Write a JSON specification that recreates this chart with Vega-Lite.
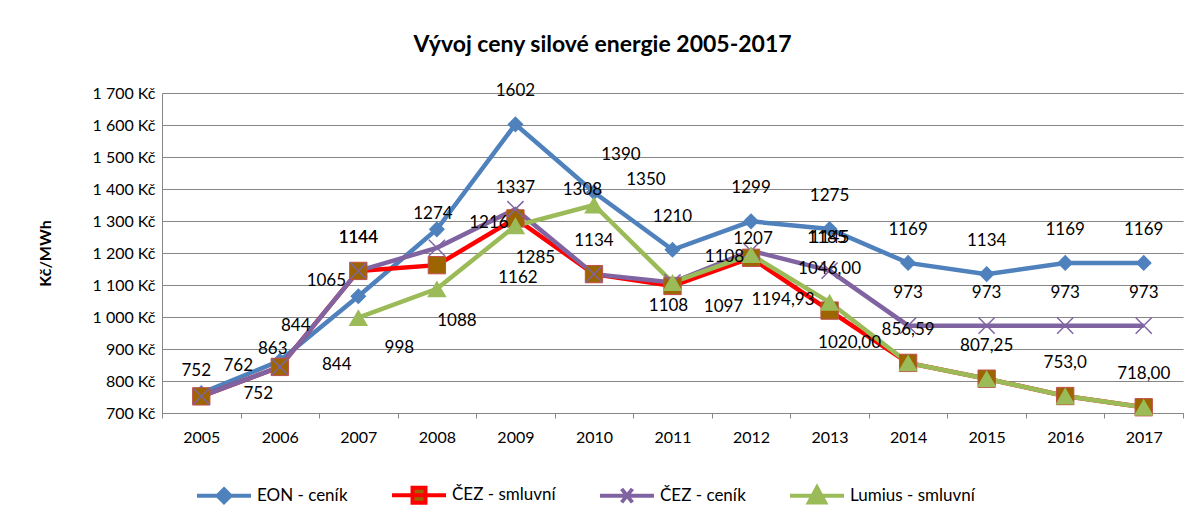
{
  "$schema": "https://vega.github.io/schema/vega-lite/v6.json",
  "width": 1021,
  "height": 320,
  "autosize": {"type": "none"},
  "padding": {"left": 162, "top": 93, "right": 6, "bottom": 114},
  "background": "white",
  "title": {"text": "Vývoj ceny silové energie 2005-2017", "font": "Lato", "fontSize": 23, "fontWeight": "bold", "color": "#000000", "anchor": "middle", "dx": -70, "offset": 25},
  "config": {
    "view": {"stroke": null},
    "font": "Lato",
    "text": {"font": "Lato"}
  },
  "data": {"values": [
    {"series": "EON - ceník", "year": "2005", "value": 762, "label": "762"},
    {"series": "EON - ceník", "year": "2006", "value": 863, "label": "863"},
    {"series": "EON - ceník", "year": "2007", "value": 1065, "label": "1065"},
    {"series": "EON - ceník", "year": "2008", "value": 1274, "label": "1274"},
    {"series": "EON - ceník", "year": "2009", "value": 1602, "label": "1602"},
    {"series": "EON - ceník", "year": "2010", "value": 1390, "label": "1390"},
    {"series": "EON - ceník", "year": "2011", "value": 1210, "label": "1210"},
    {"series": "EON - ceník", "year": "2012", "value": 1299, "label": "1299"},
    {"series": "EON - ceník", "year": "2013", "value": 1275, "label": "1275"},
    {"series": "EON - ceník", "year": "2014", "value": 1169, "label": "1169"},
    {"series": "EON - ceník", "year": "2015", "value": 1134, "label": "1134"},
    {"series": "EON - ceník", "year": "2016", "value": 1169, "label": "1169"},
    {"series": "EON - ceník", "year": "2017", "value": 1169, "label": "1169"},
    {"series": "ČEZ - smluvní", "year": "2005", "value": 752, "label": "752"},
    {"series": "ČEZ - smluvní", "year": "2006", "value": 844, "label": "844"},
    {"series": "ČEZ - smluvní", "year": "2007", "value": 1144, "label": "1144"},
    {"series": "ČEZ - smluvní", "year": "2008", "value": 1162, "label": "1162"},
    {"series": "ČEZ - smluvní", "year": "2009", "value": 1308, "label": "1308"},
    {"series": "ČEZ - smluvní", "year": "2010", "value": 1134, "label": "1134"},
    {"series": "ČEZ - smluvní", "year": "2011", "value": 1097, "label": "1097"},
    {"series": "ČEZ - smluvní", "year": "2012", "value": 1185, "label": "1185"},
    {"series": "ČEZ - smluvní", "year": "2013", "value": 1020, "label": "1020,00"},
    {"series": "ČEZ - smluvní", "year": "2014", "value": 856.59, "label": "856,59"},
    {"series": "ČEZ - smluvní", "year": "2015", "value": 807.25, "label": "807,25"},
    {"series": "ČEZ - smluvní", "year": "2016", "value": 753, "label": "753,0"},
    {"series": "ČEZ - smluvní", "year": "2017", "value": 718, "label": "718,00"},
    {"series": "ČEZ - ceník", "year": "2005", "value": 752, "label": "752"},
    {"series": "ČEZ - ceník", "year": "2006", "value": 844, "label": "844"},
    {"series": "ČEZ - ceník", "year": "2007", "value": 1144, "label": "1144"},
    {"series": "ČEZ - ceník", "year": "2008", "value": 1216, "label": "1216"},
    {"series": "ČEZ - ceník", "year": "2009", "value": 1337, "label": "1337"},
    {"series": "ČEZ - ceník", "year": "2010", "value": 1134, "label": "1134"},
    {"series": "ČEZ - ceník", "year": "2011", "value": 1108, "label": "1108"},
    {"series": "ČEZ - ceník", "year": "2012", "value": 1207, "label": "1207"},
    {"series": "ČEZ - ceník", "year": "2013", "value": 1145, "label": "1145"},
    {"series": "ČEZ - ceník", "year": "2014", "value": 973, "label": "973"},
    {"series": "ČEZ - ceník", "year": "2015", "value": 973, "label": "973"},
    {"series": "ČEZ - ceník", "year": "2016", "value": 973, "label": "973"},
    {"series": "ČEZ - ceník", "year": "2017", "value": 973, "label": "973"},
    {"series": "Lumius - smluvní", "year": "2007", "value": 998, "label": "998"},
    {"series": "Lumius - smluvní", "year": "2008", "value": 1088, "label": "1088"},
    {"series": "Lumius - smluvní", "year": "2009", "value": 1285, "label": "1285"},
    {"series": "Lumius - smluvní", "year": "2010", "value": 1350, "label": "1350"},
    {"series": "Lumius - smluvní", "year": "2011", "value": 1108, "label": "1108"},
    {"series": "Lumius - smluvní", "year": "2012", "value": 1194.93, "label": "1194,93"},
    {"series": "Lumius - smluvní", "year": "2013", "value": 1046, "label": "1046,00"},
    {"series": "Lumius - smluvní", "year": "2014", "value": 856.59, "label": "856,59"},
    {"series": "Lumius - smluvní", "year": "2015", "value": 807.25, "label": "807,25"},
    {"series": "Lumius - smluvní", "year": "2016", "value": 753, "label": "753,0"},
    {"series": "Lumius - smluvní", "year": "2017", "value": 718, "label": "718,00"}
  ]},
  "encoding": {
    "x": {
      "field": "year", "type": "ordinal", "bandPosition": 0.5,
      "scale": {"type": "band", "paddingInner": 0, "paddingOuter": 0},
      "axis": {"title": null, "labelAngle": 0, "tickBand": "extent", "domainColor": "#868686", "domainWidth": 1, "tickColor": "#868686", "tickSize": 5, "labelPadding": 11, "labelFont": "Lato", "labelFontSize": 16, "labelColor": "#000000", "grid": false, "labelOverlap": false}
    },
    "y": {
      "field": "value", "type": "quantitative",
      "scale": {"domain": [700, 1700], "nice": false, "zero": false},
      "axis": {"title": "Kč/MWh", "titleFont": "Lato", "titleFontSize": 16, "titleFontWeight": "bold", "titleColor": "#000000", "titleX": -117, "titleY": 160, "titleAngle": -90, "titleAlign": "center", "titleBaseline": "middle", "values": [700, 800, 900, 1000, 1100, 1200, 1300, 1400, 1500, 1600, 1700], "labelOverlap": false, "labelExpr": "replace(format(datum.value, ','), ',', ' ') + ' Kč'", "labelFont": "Lato", "labelFontSize": 16, "labelColor": "#000000", "labelPadding": 7, "ticks": false, "domainColor": "#868686", "gridColor": "#868686", "gridWidth": 1}
    }
  },
  "layer": [
    {
      "mark": {"type": "line", "strokeWidth": 4.5},
      "encoding": {
        "color": {
          "field": "series", "type": "nominal",
          "scale": {"domain": ["EON - ceník", "ČEZ - smluvní", "ČEZ - ceník", "Lumius - smluvní"], "range": ["#4F81BD", "#FF0000", "#8064A2", "#9BBB59"]},
          "legend": {
            "orient": "none", "legendX": 33, "legendY": 373, "direction": "horizontal", "title": null,
            "symbolSize": 2916, "symbolStrokeWidth": 4, "labelFont": "Lato", "labelFontSize": 17, "labelColor": "#000000", "columnPadding": 36, "labelOffset": 4,
            "encode": {"symbols": {"update": {
              "shape": {"signal": "datum.value === 'EON - ceník' ? 'M-1,0L1,0M0,-0.24L0.24,0L0,0.24L-0.24,0Z' : datum.value === 'ČEZ - smluvní' ? 'M-1,0L1,0M-0.24,-0.28L0.24,-0.28L0.24,0.28L-0.24,0.28Z' : datum.value === 'ČEZ - ceník' ? 'M-1,0L1,0M-0.2,-0.25L0.2,0.25M-0.2,0.25L0.2,-0.25' : 'M-1,0L1,0M0,-0.3L0.3,0.25L-0.3,0.25Z'"},
              "fill": {"signal": "datum.value === 'EON - ceník' ? '#4F81BD' : datum.value === 'ČEZ - smluvní' ? '#9C6500' : datum.value === 'ČEZ - ceník' ? 'transparent' : '#9BBB59'"},
              "stroke": {"signal": "datum.value === 'EON - ceník' ? '#4F81BD' : datum.value === 'ČEZ - smluvní' ? '#FF0000' : datum.value === 'ČEZ - ceník' ? '#8064A2' : '#9BBB59'"},
              "strokeWidth": {"value": 4},
              "opacity": {"value": 1}
            }}}
          }
        }
      }
    },
    {
      "transform": [{"filter": "datum.series === 'EON - ceník'"}],
      "mark": {"type": "point", "shape": "diamond", "size": 260, "filled": true, "color": "#4F81BD", "opacity": 1}
    },
    {
      "transform": [{"filter": "datum.series === 'ČEZ - smluvní'"}],
      "mark": {"type": "point", "shape": "square", "size": 300, "filled": true, "fill": "#9C6500", "stroke": "#C0504D", "strokeWidth": 1, "opacity": 1}
    },
    {
      "transform": [{"filter": "datum.series === 'ČEZ - ceník'"}],
      "mark": {"type": "point", "shape": "M-1,-1L1,1M-1,1L1,-1", "size": 260, "filled": false, "stroke": "#8064A2", "strokeWidth": 1.5, "opacity": 1}
    },
    {
      "transform": [{"filter": "datum.series === 'Lumius - smluvní'"}],
      "mark": {"type": "point", "shape": "triangle-up", "size": 380, "filled": true, "color": "#9BBB59", "opacity": 1}
    },
    {
      "transform": [{"filter": "indexof(['EON - ceník2009','EON - ceník2011','EON - ceník2012','EON - ceník2013','EON - ceník2014','EON - ceník2015','EON - ceník2016','EON - ceník2017','ČEZ - ceník2007','ČEZ - ceník2013','ČEZ - ceník2014','ČEZ - ceník2015','ČEZ - ceník2016','ČEZ - ceník2017','ČEZ - smluvní2007','ČEZ - smluvní2010','ČEZ - smluvní2014','ČEZ - smluvní2015','ČEZ - smluvní2016','ČEZ - smluvní2017','Lumius - smluvní2013'], datum.series + datum.year) >= 0"}],
      "mark": {"type": "text", "dx": 0, "dy": -33, "fontSize": 17, "font": "Lato", "color": "#000000"},
      "encoding": {"text": {"field": "label"}}
    },
    {
      "transform": [{"filter": "datum.series + datum.year === 'EON - ceník2005'"}],
      "mark": {"type": "text", "dx": 37, "dy": -27, "fontSize": 17, "font": "Lato", "color": "#000000"},
      "encoding": {"text": {"field": "label"}}
    },
    {
      "transform": [{"filter": "datum.series + datum.year === 'EON - ceník2006'"}],
      "mark": {"type": "text", "dx": -7, "dy": -12, "fontSize": 17, "font": "Lato", "color": "#000000"},
      "encoding": {"text": {"field": "label"}}
    },
    {
      "transform": [{"filter": "datum.series + datum.year === 'EON - ceník2007'"}],
      "mark": {"type": "text", "dx": -32, "dy": -15, "fontSize": 17, "font": "Lato", "color": "#000000"},
      "encoding": {"text": {"field": "label"}}
    },
    {
      "transform": [{"filter": "datum.series + datum.year === 'EON - ceník2008'"}],
      "mark": {"type": "text", "dx": -4, "dy": -15, "fontSize": 17, "font": "Lato", "color": "#000000"},
      "encoding": {"text": {"field": "label"}}
    },
    {
      "transform": [{"filter": "datum.series + datum.year === 'EON - ceník2010'"}],
      "mark": {"type": "text", "dx": 27, "dy": -37, "fontSize": 17, "font": "Lato", "color": "#000000"},
      "encoding": {"text": {"field": "label"}}
    },
    {
      "transform": [{"filter": "datum.series + datum.year === 'ČEZ - ceník2005'"}],
      "mark": {"type": "text", "dx": -5, "dy": -25, "fontSize": 17, "font": "Lato", "color": "#000000"},
      "encoding": {"text": {"field": "label"}}
    },
    {
      "transform": [{"filter": "datum.series + datum.year === 'ČEZ - ceník2006'"}],
      "mark": {"type": "text", "dx": 16, "dy": -41, "fontSize": 17, "font": "Lato", "color": "#000000"},
      "encoding": {"text": {"field": "label"}}
    },
    {
      "transform": [{"filter": "indexof(['ČEZ - ceník2008','ČEZ - ceník2011','Lumius - smluvní2010'], datum.series + datum.year) >= 0"}],
      "mark": {"type": "text", "dx": 52, "dy": -25, "fontSize": 17, "font": "Lato", "color": "#000000"},
      "encoding": {"text": {"field": "label"}}
    },
    {
      "transform": [{"filter": "datum.series + datum.year === 'ČEZ - ceník2009'"}],
      "mark": {"type": "text", "dx": 0, "dy": -21, "fontSize": 17, "font": "Lato", "color": "#000000"},
      "encoding": {"text": {"field": "label"}}
    },
    {
      "transform": [{"filter": "datum.series + datum.year === 'ČEZ - ceník2012'"}],
      "mark": {"type": "text", "dx": 2, "dy": -12, "fontSize": 17, "font": "Lato", "color": "#000000"},
      "encoding": {"text": {"field": "label"}}
    },
    {
      "transform": [{"filter": "indexof(['ČEZ - smluvní2005','ČEZ - smluvní2006'], datum.series + datum.year) >= 0"}],
      "mark": {"type": "text", "dx": 57, "dy": -2, "fontSize": 17, "font": "Lato", "color": "#000000"},
      "encoding": {"text": {"field": "label"}}
    },
    {
      "transform": [{"filter": "datum.series + datum.year === 'ČEZ - smluvní2008'"}],
      "mark": {"type": "text", "dx": 81, "dy": 13, "fontSize": 17, "font": "Lato", "color": "#000000"},
      "encoding": {"text": {"field": "label"}}
    },
    {
      "transform": [{"filter": "datum.series + datum.year === 'ČEZ - smluvní2009'"}],
      "mark": {"type": "text", "dx": 67, "dy": -28, "fontSize": 17, "font": "Lato", "color": "#000000"},
      "encoding": {"text": {"field": "label"}}
    },
    {
      "transform": [{"filter": "datum.series + datum.year === 'ČEZ - smluvní2011'"}],
      "mark": {"type": "text", "dx": 51, "dy": 21, "fontSize": 17, "font": "Lato", "color": "#000000"},
      "encoding": {"text": {"field": "label"}}
    },
    {
      "transform": [{"filter": "datum.series + datum.year === 'ČEZ - smluvní2012'"}],
      "mark": {"type": "text", "dx": 76, "dy": -20, "fontSize": 17, "font": "Lato", "color": "#000000"},
      "encoding": {"text": {"field": "label"}}
    },
    {
      "transform": [{"filter": "indexof(['ČEZ - smluvní2013','Lumius - smluvní2008','Lumius - smluvní2009'], datum.series + datum.year) >= 0"}],
      "mark": {"type": "text", "dx": 20, "dy": 32, "fontSize": 17, "font": "Lato", "color": "#000000"},
      "encoding": {"text": {"field": "label"}}
    },
    {
      "transform": [{"filter": "datum.series + datum.year === 'Lumius - smluvní2007'"}],
      "mark": {"type": "text", "dx": 41, "dy": 30, "fontSize": 17, "font": "Lato", "color": "#000000"},
      "encoding": {"text": {"field": "label"}}
    },
    {
      "transform": [{"filter": "datum.series + datum.year === 'Lumius - smluvní2011'"}],
      "mark": {"type": "text", "dx": -4, "dy": 24, "fontSize": 17, "font": "Lato", "color": "#000000"},
      "encoding": {"text": {"field": "label"}}
    },
    {
      "transform": [{"filter": "datum.series + datum.year === 'Lumius - smluvní2012'"}],
      "mark": {"type": "text", "dx": 32, "dy": 45, "fontSize": 17, "font": "Lato", "color": "#000000"},
      "encoding": {"text": {"field": "label"}}
    }
  ]
}
